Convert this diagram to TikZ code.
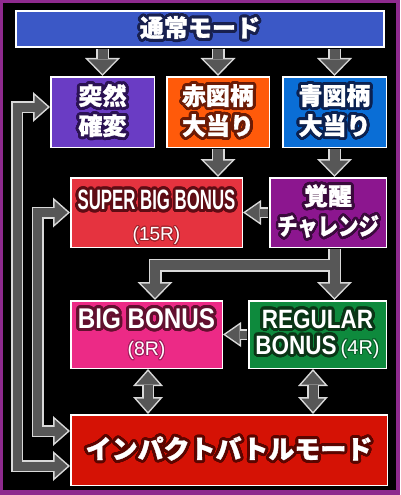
\documentclass[tikz,border=0pt]{standalone}
\usepackage{fontspec}
\usepackage{graphicx}
\usepackage{contour}
\usetikzlibrary{arrows.meta}

\setmainfont{Noto Sans CJK JP}[BoldFeatures={FakeBold=1.2}]
\newfontfamily\narrowfont{Liberation Sans}[FakeStretch=0.6]
\newfontfamily\latinfont{Liberation Sans}[FakeStretch=0.85]
\newfontfamily\plainfont{Liberation Sans}

\contourlength{2.9pt}
\contournumber{32}
\newcommand{\outl}[2]{\contour{#1}{#2}}
\newcommand{\rounds}[2]{{\plainfont\mdseries\fontsize{#1}{#1}\selectfont\contourlength{0.8pt}#2}}

\definecolor{framepurple}{HTML}{8E2A8E}
\definecolor{rimgray}{HTML}{D9D9D9}
\definecolor{coregray}{HTML}{575757}
\definecolor{modeblue}{HTML}{3B58C6}
\definecolor{kakuhenviolet}{HTML}{6A3CC4}
\definecolor{akaorange}{HTML}{FF5A0A}
\definecolor{aoblue}{HTML}{0A6ED6}
\definecolor{sbbred}{HTML}{E5333F}
\definecolor{kakuseipurple}{HTML}{8C168F}
\definecolor{bbpink}{HTML}{EC2A86}
\definecolor{rbgreen}{HTML}{0E8A3D}
\definecolor{impactred}{HTML}{D51205}
\definecolor{modedark}{HTML}{18204F}
\definecolor{violetdark}{HTML}{2B1253}
\definecolor{orangedark}{HTML}{6B1B05}
\definecolor{bluedark}{HTML}{0B2150}
\definecolor{reddark}{HTML}{5E0C14}
\definecolor{purpledark}{HTML}{3A0A3C}
\definecolor{pinkdark}{HTML}{62102F}
\definecolor{greendark}{HTML}{0A3516}
\definecolor{impactdark}{HTML}{5A0500}

\begin{document}
\begin{tikzpicture}[x=1pt, y=-1pt,
box/.style={draw=white, line width=1.5pt, inner sep=0pt, align=center, text=white, font=\bfseries\fontsize{24}{30}\selectfont},
bigrim/.style={draw=rimgray, line width=13pt, -{Triangle[width=35pt,length=18pt,line width=0pt]}, shorten <=0.8pt},
bigcore/.style={draw=coregray, line width=10pt, -{Triangle[width=28pt,length=14.3pt,line width=0pt]}, shorten >=2.2pt, shorten <=0.8pt},
smallrim/.style={draw=rimgray, line width=11pt, -{Triangle[width=25pt,length=18pt,line width=0pt]}, shorten <=0.8pt},
smallcore/.style={draw=coregray, line width=8pt, -{Triangle[width=19.3pt,length=13.9pt,line width=0pt]}, shorten >=2.6pt, shorten <=0.8pt},
duorim/.style={draw=rimgray, line width=12pt, {Triangle[width=30pt,length=17pt,line width=0pt]}-{Triangle[width=30pt,length=17pt,line width=0pt]}},
duocore/.style={draw=coregray, line width=9pt, {Triangle[width=23.3pt,length=13.2pt,line width=0pt]}-{Triangle[width=23.3pt,length=13.2pt,line width=0pt]}, shorten >=2.3pt, shorten <=2.3pt}
]
\useasboundingbox (0,0) rectangle (400,495);
\fill[framepurple] (0,0) rectangle (400,495);
\fill[black] (3,3) rectangle (396,490);

% boxes
\node[box, fill=modeblue, minimum width=368pt, minimum height=36pt] (mode) at (200,29) {\outl{modedark}{通常モード}};
\node[box, fill=kakuhenviolet, minimum width=103.5pt, minimum height=70.5pt] (kakuhen) at (102.5,112) {\outl{violetdark}{突然}\\\outl{violetdark}{確変}};
\node[box, fill=akaorange, minimum width=102.5pt, minimum height=70.5pt] (aka) at (218,112) {\outl{orangedark}{赤図柄}\\\outl{orangedark}{大当り}};
\node[box, fill=aoblue, minimum width=103.5pt, minimum height=70.5pt] (ao) at (334.5,112) {\outl{bluedark}{青図柄}\\\outl{bluedark}{大当り}};
\node[box, fill=sbbred, minimum width=171.5pt, minimum height=69.5pt] (sbb) at (156.5,212.5)
  {\rule{0pt}{30pt}{\narrowfont\bfseries\fontsize{28}{28}\selectfont\outl{reddark}{SUPER BIG BONUS}}\\[1pt]\rounds{19}{\outl{sbbred!70!black}{(15R)}}};
\node[box, fill=kakuseipurple, minimum width=116.5pt, minimum height=69.5pt] (kakusei) at (328,212.5) {\outl{purpledark}{覚醒}\\\scalebox{0.85}[1]{\outl{purpledark}{チャレンジ}}};
\node[box, fill=bbpink, minimum width=151.5pt, minimum height=67.5pt] (bb) at (146.5,334.5)
  {{\latinfont\bfseries\fontsize{28.5}{28.5}\selectfont\outl{pinkdark}{BIG BONUS}}\\[-3pt]\rounds{19.5}{\outl{bbpink!70!black}{(8R)}}};
\node[box, fill=rbgreen, minimum width=137.5pt, minimum height=67.5pt] (rb) at (317.5,334.5)
  {{\latinfont\bfseries\fontsize{26.5}{26.5}\selectfont\outl{greendark}{REGULAR}}\\[-4pt]{\latinfont\bfseries\fontsize{26.5}{26.5}\selectfont\outl{greendark}{BONUS}}\,\rounds{20}{\outl{rbgreen!70!black}{(4R)}}};
\node[box, fill=impactred, minimum width=316.5pt, minimum height=70.5pt, font=\bfseries\fontsize{26}{30}\selectfont] (impact) at (229,450) {\outl{impactdark}{インパクトバトルモード}};

\coordinate (fork) at (155,265);
\coordinate (outerlane) at (17,0);
\coordinate (innerlane) at (37.5,0);
\coordinate (lowin) at ([yshift=-16pt]impact.west);
\coordinate (highin) at ([yshift=19pt]impact.west);

% arrows, rims first
\draw[bigrim] (mode.south -| kakuhen.north) -- (kakuhen.north);
\draw[bigrim] (mode.south -| aka.north) -- (aka.north);
\draw[bigrim] (mode.south -| ao.north) -- (ao.north);
\draw[bigrim] (aka.south) -- (aka.south |- sbb.north);
\draw[bigrim] (ao.south) -- (ao.south |- kakusei.north);
\draw[bigrim] (kakusei.south -| ao.south) -- (rb.north -| ao.south);
\draw[bigrim] (kakusei.south -| ao.south) |- (fork) -- (fork |- bb.north);
\draw[smallrim] (kakusei.west) -- (sbb.east);
\draw[smallrim] (rb.west) -- (bb.east);
\draw[duorim] ([yshift=5pt]kakuhen.west) -| (outerlane |- lowin) -- (lowin);
\draw[duorim] (sbb.west) -| (innerlane |- highin) -- (highin);
\draw[duorim] ([xshift=1.5pt]bb.south) -- ([xshift=1.5pt]bb.south |- impact.north);
\draw[duorim] ([xshift=-4.5pt]rb.south) -- ([xshift=-4.5pt]rb.south |- impact.north);

% arrows, cores
\draw[bigcore] (mode.south -| kakuhen.north) -- (kakuhen.north);
\draw[bigcore] (mode.south -| aka.north) -- (aka.north);
\draw[bigcore] (mode.south -| ao.north) -- (ao.north);
\draw[bigcore] (aka.south) -- (aka.south |- sbb.north);
\draw[bigcore] (ao.south) -- (ao.south |- kakusei.north);
\draw[bigcore] (kakusei.south -| ao.south) -- (rb.north -| ao.south);
\draw[bigcore] (kakusei.south -| ao.south) |- (fork) -- (fork |- bb.north);
\draw[smallcore] (kakusei.west) -- (sbb.east);
\draw[smallcore] (rb.west) -- (bb.east);
\draw[duocore] ([yshift=5pt]kakuhen.west) -| (outerlane |- lowin) -- (lowin);
\draw[duocore] (sbb.west) -| (innerlane |- highin) -- (highin);
\draw[duocore] ([xshift=1.5pt]bb.south) -- ([xshift=1.5pt]bb.south |- impact.north);
\draw[duocore] ([xshift=-4.5pt]rb.south) -- ([xshift=-4.5pt]rb.south |- impact.north);
\end{tikzpicture}
\end{document}
